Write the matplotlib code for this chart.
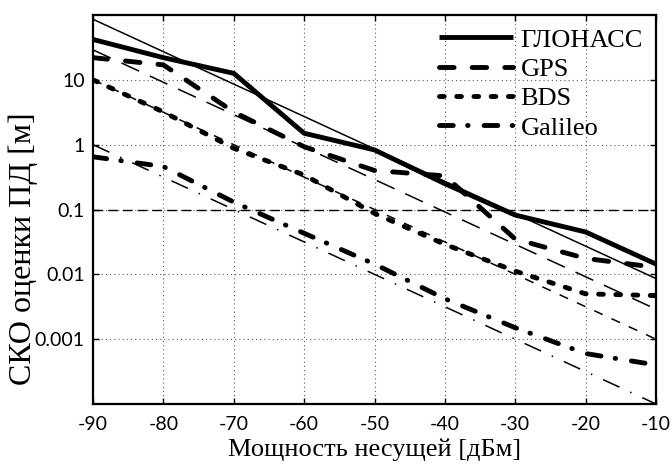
import matplotlib
matplotlib.use("Agg")
import matplotlib.pyplot as plt

# measured values
power = [-90, -80, -70, -60, -50, -40, -30, -20, -10]
glonass = [42, 22, 12.6, 1.5, 0.83, 0.25, 0.082, 0.045, 0.0144]
gps = [22, 17, 3.2, 0.93, 0.40, 0.33, 0.035, 0.0176, 0.0128]
bds = [10, 3.2, 0.88, 0.34, 0.087, 0.029, 0.0112, 0.005, 0.0047]
galileo = [0.65, 0.46, 0.13, 0.043, 0.0144, 0.0042, 0.0015, 0.0006, 0.0004]

# theoretical lines (end points)
power_th = [-90, -10]
glonass_th = [86, 0.0086]
gps_th = [29, 0.0029]
bds_th = [10, 0.001]
galileo_th = [1.0, 0.0001]

threshold = 0.1

xticks = [-90, -80, -70, -60, -50, -40, -30, -20, -10]
yticks = [10, 1, 0.1, 0.01, 0.001]
ytick_labels = ["10", "1", "0.1", "0.01", "0.001"]
names = ["ГЛОНАСС", "GPS", "BDS", "Galileo"]

plt.rcParams["lines.scale_dashes"] = False
serif = ["Liberation Serif", "DejaVu Serif"]

fig = plt.figure(figsize=(6.72, 4.65), dpi=100)
ax = fig.add_axes([0.1384, 0.1312, 0.8378, 0.8365])

lw = 3.5
thin = 1.1
kw = dict(color="black", lw=lw, dash_capstyle="round", solid_capstyle="butt")
l1, = ax.plot(power, glonass, ls="-", **kw)
l2, = ax.plot(power, gps, ls=(0, (10.5, 13)), **kw)
l3, = ax.plot(power, bds, ls=(0, (3.4, 9)), **kw)
l4, = ax.plot(power, galileo, ls=(0, (9.9, 10.3, 0.4, 11.5)), **kw)

ax.plot(power_th, glonass_th, color="black", lw=thin, ls="-")
ax.plot(power_th, gps_th, color="black", lw=thin, ls=(0, (14, 8.5)))
ax.plot(power_th, bds_th, color="black", lw=thin, ls=(0, (6.7, 7)))
ax.plot(power_th, galileo_th, color="black", lw=thin, ls=(0, (13, 8.5, 1.1, 8.5)))

ax.set_yscale("log")
ax.set_xlim(-90, -10)
ax.set_ylim(1e-4, 100)
ax.set_xticks(xticks)
ax.set_xticklabels([str(t) for t in xticks])
ax.set_yticks(yticks)
ax.set_yticklabels(ytick_labels)
ax.minorticks_off()
ax.grid(True, color="0.35", lw=0.8, ls=(0, (0.8, 2.2)))
ax.axhline(threshold, color="white", lw=1.2, zorder=1.5)
ax.axhline(threshold, color="black", lw=1.0, ls=(0, (7, 3.6)), zorder=1.6)

for s in ax.spines.values():
    s.set_linewidth(1.6)
ax.tick_params(direction="in", length=4, width=1, top=True, right=True,
               labelsize=14)
ax.tick_params(axis="x", pad=9)
ax.tick_params(axis="y", pad=6)
for lab in ax.get_xticklabels() + ax.get_yticklabels():
    lab.set_fontfamily("Lato")

ax.set_xlabel("Мощность несущей [дБм]", fontfamily=serif, fontsize=19)
ax.set_ylabel("СКО оценки ПД [м]", fontfamily=serif, fontsize=23)
ax.yaxis.set_label_coords(-0.097, 0.40)
ax.xaxis.set_label_coords(0.5, -0.09)

leg = ax.legend([l1, l2, l3, l4], names, loc="upper right", frameon=False,
                prop={"family": serif, "size": 19}, handlelength=2.8,
                handletextpad=0.3, labelspacing=0.22, borderaxespad=0.2,
                borderpad=0.3)

fig.savefig("out.png", dpi=100)
